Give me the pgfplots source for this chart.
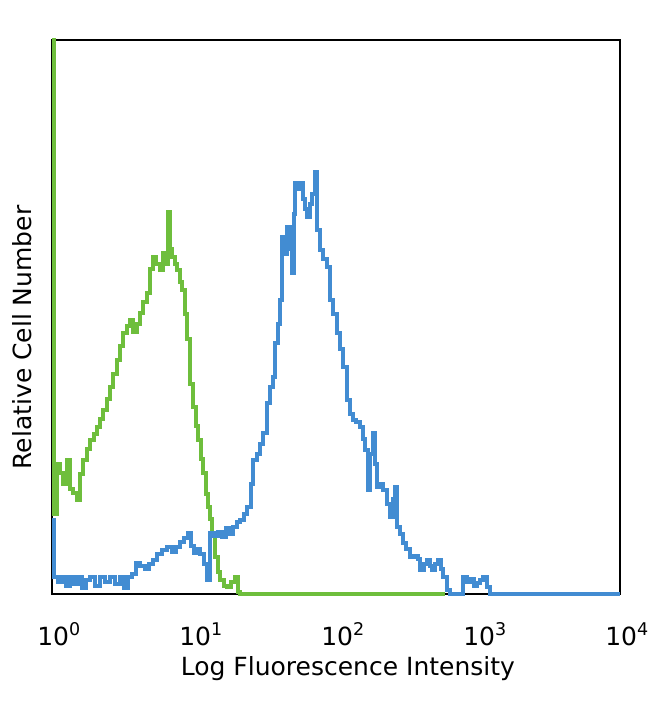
\documentclass[border=0pt]{standalone}
\usepackage{fontspec}
\setmainfont{DejaVu Sans}
\usepackage{pgfplots}
\pgfplotsset{compat=1.18}
\usepackage{pgfplotstable}

\definecolor{cytoblue}{HTML}{428CD2}
\definecolor{cytogreen}{HTML}{6EBE3C}

% x = log10 intensity, y = relative count (arbitrary units)
\pgfplotstableread{
x h
0.000 554
0.014 80
0.035 130
0.056 121
0.077 110
0.106 134
0.127 105
0.148 101
0.176 94
0.197 120
0.218 134
0.246 145
0.268 154
0.296 160
0.317 167
0.338 175
0.359 184
0.387 195
0.408 207
0.430 220
0.458 234
0.479 248
0.500 261
0.528 268
0.549 274
0.570 262
0.599 270
0.620 281
0.641 292
0.669 301
0.690 325
0.711 337
0.732 330
0.761 324
0.782 341
0.803 330
0.817 382
0.831 345
0.845 337
0.866 330
0.880 324
0.901 312
0.915 304
0.937 280
0.951 255
0.972 210
0.993 187
1.014 168
1.028 154
1.049 135
1.063 121
1.085 100
1.099 87
1.113 75
1.127 61
1.148 37
1.169 22
1.183 14
1.211 8
1.232 7
1.261 12
1.289 17
1.310 2
1.324 0
2.768 0
}\isotype

\pgfplotstableread{
x h
0.000 74
0.014 17
0.042 12
0.070 17
0.099 8
0.127 17
0.155 10
0.183 17
0.211 6
0.239 14
0.268 17
0.303 8
0.338 17
0.373 12
0.408 17
0.444 10
0.479 17
0.507 6
0.535 17
0.563 20
0.592 31
0.620 28
0.655 25
0.683 30
0.711 34
0.739 40
0.775 44
0.810 47
0.845 42
0.873 47
0.901 52
0.930 56
0.958 61
0.979 48
1.000 41
1.021 45
1.042 40
1.070 30
1.092 14
1.113 61
1.141 58
1.169 62
1.197 57
1.225 66
1.254 60
1.275 67
1.303 72
1.324 74
1.352 80
1.373 87
1.401 110
1.415 134
1.444 140
1.465 150
1.486 161
1.514 191
1.535 207
1.556 217
1.570 251
1.592 270
1.606 294
1.620 357
1.641 340
1.655 367
1.676 345
1.690 321
1.704 380
1.711 411
1.732 405
1.746 411
1.768 395
1.782 385
1.796 377
1.817 390
1.831 400
1.852 422
1.866 364
1.887 344
1.908 335
1.937 327
1.958 294
1.979 280
2.007 261
2.028 245
2.049 227
2.077 194
2.099 180
2.120 174
2.141 172
2.169 167
2.190 155
2.204 144
2.225 104
2.239 140
2.261 161
2.275 130
2.289 107
2.310 110
2.331 104
2.359 90
2.380 77
2.401 95
2.415 107
2.430 67
2.451 60
2.472 51
2.493 45
2.521 37
2.549 38
2.577 35
2.592 24
2.620 30
2.641 34
2.662 28
2.676 24
2.697 30
2.718 34
2.739 25
2.754 17
2.782 4
2.803 0
2.873 0
2.894 17
2.923 12
2.951 15
2.972 8
2.993 11
3.014 14
3.035 17
3.063 7
3.085 0
4.000 0
}\stained

\begin{document}
\begin{tikzpicture}
\useasboundingbox (0,0) rectangle (650pt,704pt);
\begin{axis}[
  at={(52pt,110pt)}, anchor=south west,
  width=568pt, height=554pt, scale only axis,
  xmin=0, xmax=4, ymin=0, ymax=554,
  clip=false,
  axis line style={line width=1.6pt, black},
  xtick={0,1,2,3,4},
  xticklabels={10\textsuperscript{0},10\textsuperscript{1},10\textsuperscript{2},10\textsuperscript{3},10\textsuperscript{4}},
  ytick=\empty,
  major tick length=0pt,
  xticklabel style={font=\fontsize{25}{30}\selectfont, anchor=base, yshift=-51pt, xshift=7pt, inner sep=0pt},
  xlabel={Log Fluorescence Intensity},
  ylabel={Relative Cell Number},
  xlabel style={font=\fontsize{25}{30}\selectfont, at={(rel axis cs:0.521,0)}, anchor=base, yshift=-81pt, inner sep=0pt},
  ylabel style={font=\fontsize{25}{30}\selectfont, at={(rel axis cs:-0.036,0.463)}, anchor=south, rotate=0, inner sep=0pt},
]
\addplot[const plot, line width=3.4pt, cytogreen] table[x=x, y=h] {\isotype};
\addplot[const plot, line width=3.4pt, cytoblue] table[x=x, y=h] {\stained};
\end{axis}
\end{tikzpicture}
\end{document}
